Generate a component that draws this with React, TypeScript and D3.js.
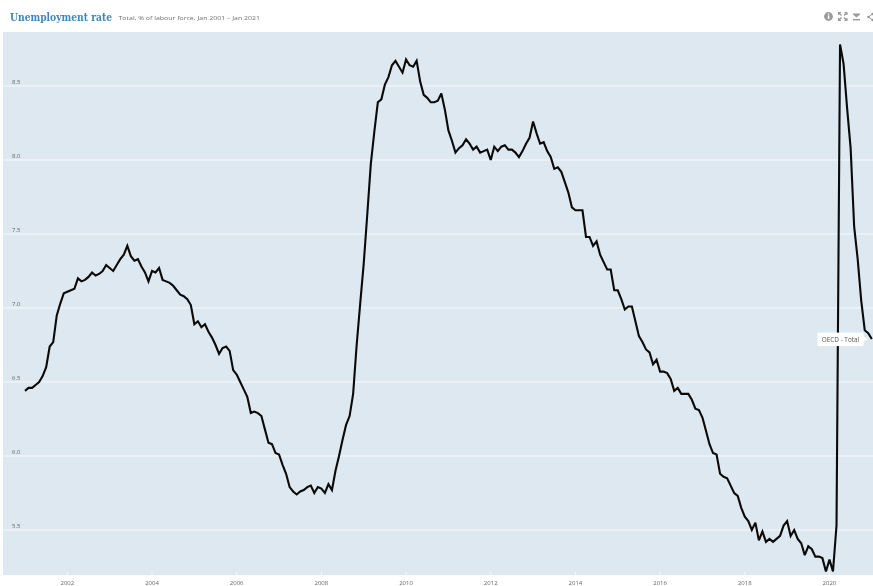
import React from "react";
import * as d3 from "d3";

const title = "Unemployment rate";
const subtitle = "Total, % of labour force, Jan 2001 – Jan 2021";
const seriesLabel = "OECD - Total";
const yTicks = [5.5, 6, 6.5, 7, 7.5, 8, 8.5];
const xTickYears = [2002, 2004, 2006, 2008, 2010, 2012, 2014, 2016, 2018, 2020];
const startYear = 2001;

const y2001 = [6.44, 6.46, 6.46, 6.48, 6.5, 6.54, 6.6, 6.74, 6.77, 6.95, 7.03, 7.1];
const y2002 = [7.11, 7.12, 7.13, 7.2, 7.18, 7.19, 7.21, 7.24, 7.22, 7.23, 7.25, 7.29];
const y2003 = [7.27, 7.25, 7.29, 7.33, 7.36, 7.42, 7.35, 7.32, 7.33, 7.28, 7.24, 7.18];
const y2004 = [7.25, 7.24, 7.27, 7.19, 7.18, 7.17, 7.15, 7.12, 7.09, 7.08, 7.06, 7.02];
const y2005 = [6.89, 6.91, 6.87, 6.89, 6.84, 6.8, 6.75, 6.69, 6.73, 6.74, 6.71, 6.58];
const y2006 = [6.55, 6.5, 6.45, 6.4, 6.29, 6.3, 6.29, 6.27, 6.18, 6.09, 6.08, 6.02];
const y2007 = [6.01, 5.94, 5.88, 5.79, 5.76, 5.74, 5.76, 5.77, 5.79, 5.8, 5.75, 5.79];
const y2008 = [5.78, 5.75, 5.81, 5.77, 5.9, 6.0, 6.11, 6.21, 6.27, 6.42, 6.75, 7.03];
const y2009 = [7.3, 7.63, 7.97, 8.19, 8.39, 8.41, 8.51, 8.56, 8.64, 8.67, 8.63, 8.59];
const y2010 = [8.68, 8.64, 8.63, 8.67, 8.53, 8.44, 8.42, 8.39, 8.39, 8.4, 8.45, 8.34];
const y2011 = [8.2, 8.13, 8.05, 8.08, 8.1, 8.14, 8.11, 8.07, 8.09, 8.05, 8.06, 8.07];
const y2012 = [8.0, 8.09, 8.06, 8.09, 8.1, 8.07, 8.07, 8.05, 8.02, 8.06, 8.11, 8.15];
const y2013 = [8.26, 8.18, 8.11, 8.12, 8.06, 8.02, 7.94, 7.95, 7.92, 7.85, 7.78, 7.68];
const y2014 = [7.66, 7.66, 7.66, 7.48, 7.48, 7.42, 7.45, 7.36, 7.31, 7.26, 7.26, 7.12];
const y2015 = [7.12, 7.06, 6.99, 7.01, 7.01, 6.91, 6.81, 6.77, 6.72, 6.7, 6.62, 6.65];
const y2016 = [6.57, 6.57, 6.56, 6.52, 6.44, 6.46, 6.42, 6.42, 6.42, 6.38, 6.32, 6.31];
const y2017 = [6.26, 6.17, 6.08, 6.02, 6.01, 5.88, 5.86, 5.85, 5.8, 5.75, 5.73, 5.65];
const y2018 = [5.59, 5.56, 5.5, 5.55, 5.43, 5.49, 5.42, 5.44, 5.42, 5.44, 5.46, 5.53];
const y2019 = [5.56, 5.46, 5.5, 5.44, 5.41, 5.33, 5.39, 5.37, 5.32, 5.32, 5.31, 5.22];
const y2020 = [5.3, 5.22, 5.53, 8.78, 8.65, 8.35, 8.08, 7.55, 7.33, 7.05, 6.85, 6.83];
const y2021 = [6.79];

const values = [
  ...y2001, ...y2002, ...y2003, ...y2004, ...y2005, ...y2006, ...y2007,
  ...y2008, ...y2009, ...y2010, ...y2011, ...y2012, ...y2013, ...y2014,
  ...y2015, ...y2016, ...y2017, ...y2018, ...y2019, ...y2020, ...y2021,
];

const W = 873;
const H = 586;
const plot = { left: 3, right: 873, top: 32, bottom: 575 };

const x = d3.scaleLinear().domain([0, 240]).range([25, 871.8]);
const y = d3.scaleLinear().domain([5.5, 8.5]).range([530, 86]);
const line = d3
  .line<number>()
  .x((_, i) => x(i))
  .y((d) => y(d));

const ICON = "#9a9a9a";

export default function App() {
  const last = values[values.length - 1];
  const labelY = y(last);
  return (
    <svg
      width={W}
      height={H}
      viewBox={`0 0 ${W} ${H}`}
      style={{ position: "absolute", left: 0, top: 0, background: "#fff", filter: "blur(0.3px)" }}
    >
      <text x={10} y={20.5} fontFamily="'DejaVu Serif', serif" fontSize={10.5} fontWeight={700} fill="#3f87b8" textLength={102} lengthAdjust="spacingAndGlyphs">
        {title}
      </text>
      <text x={118.5} y={19.5} fontFamily="'Open Sans', sans-serif" fontSize={6} fill="#707070" textLength={141.5} lengthAdjust="spacingAndGlyphs">
        {subtitle}
      </text>

      <g fill={ICON} stroke="none">
        <circle cx={828.5} cy={16.5} r={4.4} />
        <rect x={827.8} y={15.5} width={1.5} height={3.5} fill="#fff" />
        <rect x={827.8} y={13.4} width={1.5} height={1.3} fill="#fff" />
        <g stroke={ICON} strokeWidth={1.3} fill="none">
          <path d="M839 13 l2.5 2.5 M846.5 13 l-2.5 2.5 M839 20 l2.5 -2.5 M846.5 20 l-2.5 -2.5" />
          <path d="M838.6 15 v-2.4 h2.4 M844.5 12.6 h2.4 v2.4 M838.6 18 v2.4 h2.4 M844.5 20.4 h2.4 v-2.4" />
        </g>
        <path d="M853 13.5 h7 v1 l-3.5 3 l-3.5 -3 z" />
        <rect x={853} y={19} width={7} height={1.4} />
        <circle cx={872.5} cy={14} r={1.2} />
        <circle cx={868.5} cy={17} r={1.3} />
        <circle cx={872.5} cy={20} r={1.2} />
        <path d="M868.5 17 L872.5 14 M868.5 17 L872.5 20" stroke={ICON} strokeWidth={0.9} />
      </g>

      <rect x={plot.left} y={plot.top} width={plot.right - plot.left} height={plot.bottom - plot.top} fill="#dde8f1" />

      {yTicks.map((t) => (
        <g key={t}>
          <line x1={plot.left} x2={plot.right} y1={y(t)} y2={y(t)} stroke="#f6f9fb" strokeWidth={1} />
          <text x={12} y={y(t) - 2.2} fontFamily="'Open Sans', sans-serif" fontSize={6} fill="#666">
            {t.toFixed(1)}
          </text>
        </g>
      ))}

      {xTickYears.map((yr) => {
        const px = x((yr - startYear) * 12);
        return (
          <g key={yr}>
            <line x1={px} x2={px} y1={plot.bottom - 3.5} y2={plot.bottom} stroke="#f6f9fb" strokeWidth={1} />
            <text x={px} y={584.5} textAnchor="middle" fontFamily="'Open Sans', sans-serif" fontSize={6} fill="#666">
              {yr}
            </text>
          </g>
        );
      })}

      <path d={line(values) ?? ""} fill="none" stroke="#0a0a0a" strokeWidth={2.1} strokeLinejoin="miter" strokeMiterlimit={3} />

      <g>
        <rect x={817.5} y={labelY - 6.5} width={46} height={13.5} fill="#fff" />
        <path d={`M863 ${labelY - 3} L868 ${labelY} L863 ${labelY + 3} Z`} fill="#fff" />
        <text x={840.5} y={labelY + 2.6} textAnchor="middle" fontFamily="'Open Sans', sans-serif" fontSize={6.4} fill="#555">
          {seriesLabel}
        </text>
      </g>
    </svg>
  );
}
